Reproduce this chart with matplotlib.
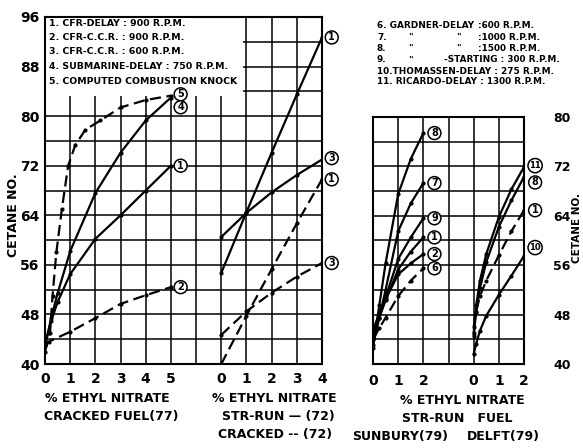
import matplotlib.pyplot as plt
from matplotlib import font_manager
from matplotlib.patches import Rectangle

W, H = 583, 448


def have(name):
    try:
        font_manager.findfont(name, fallback_to_default=False)
        return True
    except Exception:
        return False


# narrow lettering if the system has it, else plain DejaVu a bit smaller
if have('DejaVu Sans Condensed'):
    FAM, SCALE = 'DejaVu Sans Condensed', 1.0
elif have('Liberation Sans Narrow'):
    FAM, SCALE = 'Liberation Sans Narrow', 1.0
else:
    FAM, SCALE = 'DejaVu Sans', 0.84
plt.rcParams['font.family'] = [FAM, 'DejaVu Sans']
plt.rcParams['font.weight'] = 'bold'

# ---- left panel: cracked fuel (77)
crk_x = [0, 0.25, 0.5, 1, 2, 3, 4, 5]
crk_1 = [43, 47, 50, 54.5, 60.2, 64, 68, 72]
crk_4 = [43, 47.5, 51.4, 58.2, 67.6, 74.1, 79.3, 83.0]
crk_2_x = [0, 0.15, 1, 2, 3, 4, 5]
crk_2 = [43, 43.6, 45.2, 47.4, 49.7, 51.1, 52.4]
crk_5_x = [0, 0.2, 0.3, 0.45, 0.67, 0.92, 1.2, 1.6, 2.2, 3, 4, 5]
crk_5 = [42, 45, 51, 58, 65, 72, 75.3, 77.8, 79.3, 81.4, 82.6, 83.3]

# ---- middle panel: str-run (solid) / cracked (dashed), (72)
mid_x = [0, 1, 2, 3, 4]
str_1 = [54.7, 64.5, 74.1, 83.5, 92.7]
str_3 = [60.5, 64.4, 67.7, 70.5, 73.0]
c72_1 = [40, 47.8, 55.3, 62.7, 69.8]
c72_3 = [44.7, 48.5, 51.5, 54.1, 56.3]

# ---- right panel: sunbury / delft (79)
sun_x = [0, 0.25, 0.5, 1, 1.5, 2]
sun_8 = [42.6, 49.5, 56.3, 67.5, 73.2, 77.4]
sun_7 = [43, 47.5, 52, 61.5, 66, 69.3]
sun_9 = [44, 47.5, 50.8, 57, 60.5, 63.6]
sun_1 = [44.5, 47.5, 50.3, 55.3, 58.2, 60.5]
sun_2 = [45.5, 48.2, 50.5, 54.5, 56.3, 57.8]
sun_6 = [44, 45.8, 47.5, 51, 53.5, 55.5]

del_x = [0, 0.1, 0.25, 0.5, 1, 1.5, 2]
del_11 = [45, 49.5, 53.5, 57.8, 63.8, 68.3, 71.9]
del_8 = [44.5, 48.5, 52.3, 56.5, 62.2, 66.5, 70.3]
del_1 = [46, 48.5, 51, 53.5, 57.6, 61.5, 64.9]
del_10 = [41.6, 43.3, 45.4, 47.8, 51.2, 54.3, 57.5]

left_xlabels = ['0', '1', '2', '3', '4', '5', '', '0', '1', '2', '3', '4']
right_xlabels = ['0', '1', '2', '', '0', '1', '2']

MID = 7   # middle panel starts at grid column 7
DELFT = 4

legend_left = ['1. CFR-DELAY : 900 R.P.M.',
               '2. CFR-C.C.R. : 900 R.P.M.',
               '3. CFR-C.C.R. : 600 R.P.M.',
               '4. SUBMARINE-DELAY : 750 R.P.M.',
               '5. COMPUTED COMBUSTION KNOCK']

SOLID = '-'
DASH = (0, (5, 2.5))
LFS = 8 * SCALE     # legend size


def px(x, y):
    return x / W, 1 - y / H


def draw(ax, x, y, ls, off=0):
    ax.plot([v + off for v in x], y, color='black', lw=1.6, ls=ls,
            marker='o', ms=2, zorder=3, solid_capstyle='round')


def tag(ax, x, y, s, dy=0, dx=7):
    ax.annotate(s, (x, y), xytext=(dx, dy), textcoords='offset points',
                ha='center', va='center', fontsize=7 if len(s) == 1 else 6, zorder=5,
                bbox=dict(boxstyle='circle,pad=0.15', fc='white', ec='black', lw=1.1))


def style(ax):
    ax.grid(True, color='black', lw=1.1)
    ax.tick_params(length=0, labelsize=10)
    for sp in ax.spines.values():
        sp.set_linewidth(1.5)


fig = plt.figure(figsize=(W / 100, H / 100), dpi=100)

# left + middle panels share one grid
ax = fig.add_axes([45 / W, 84 / H, 277 / W, 347 / H])
ax.set_xlim(0, 11)
ax.set_ylim(40, 96)
ax.set_xticks(range(12))
ax.set_xticklabels(left_xlabels)
ax.set_yticks(range(40, 97, 4))
ax.set_yticklabels([str(v) if v % 8 == 0 else '' for v in range(40, 97, 4)])
style(ax)
ax.tick_params(axis='x', pad=6)
ax.tick_params(axis='y', pad=4)
ax.add_patch(Rectangle((0.05, 83.2), 7.8, 12.6, fc='white', ec='none', zorder=2))

draw(ax, crk_5_x, crk_5, DASH)
draw(ax, crk_x, crk_4, SOLID)
draw(ax, crk_x, crk_1, SOLID)
draw(ax, crk_2_x, crk_2, DASH)
tag(ax, 5, crk_5[-1], '5', dy=1)
tag(ax, 5, crk_4[-1], '4', dy=-7)
tag(ax, 5, crk_1[-1], '1')
tag(ax, 5, crk_2[-1], '2')

draw(ax, mid_x, str_1, SOLID, MID)
draw(ax, mid_x, str_3, SOLID, MID)
draw(ax, mid_x, c72_1, DASH, MID)
draw(ax, mid_x, c72_3, DASH, MID)
tag(ax, 4 + MID, str_1[-1], '1')
tag(ax, 4 + MID, str_3[-1], '3', dy=1)
tag(ax, 4 + MID, c72_1[-1], '1')
tag(ax, 4 + MID, c72_3[-1], '3')

# right panel
ax2 = fig.add_axes([373 / W, 84 / H, 151 / W, 247 / H])
ax2.set_xlim(0, 6)
ax2.set_ylim(40, 80)
ax2.set_xticks(range(7))
ax2.set_xticklabels(right_xlabels)
ax2.set_yticks(range(40, 81, 4))
ax2.set_yticklabels([str(v) if v % 8 == 0 else '' for v in range(40, 81, 4)])
ax2.yaxis.tick_right()
style(ax2)
ax2.tick_params(axis='x', pad=7)
ax2.tick_params(axis='y', pad=21, labelsize=9)

draw(ax2, sun_x, sun_8, SOLID)
draw(ax2, sun_x, sun_7, SOLID)
draw(ax2, sun_x, sun_9, SOLID)
draw(ax2, sun_x, sun_1, SOLID)
draw(ax2, sun_x, sun_2, SOLID)
draw(ax2, sun_x, sun_6, DASH)
for s, series in [('8', sun_8), ('7', sun_7), ('9', sun_9), ('1', sun_1), ('2', sun_2), ('6', sun_6)]:
    tag(ax2, 2, series[-1], s, dx=8)

draw(ax2, del_x, del_11, SOLID, DELFT)
draw(ax2, del_x, del_8, SOLID, DELFT)
draw(ax2, del_x, del_1, DASH, DELFT)
draw(ax2, del_x, del_10, SOLID, DELFT)
tag(ax2, 2 + DELFT, del_11[-1], '11', dx=8, dy=1)
tag(ax2, 2 + DELFT, del_8[-1], '8', dx=8, dy=-4)
tag(ax2, 2 + DELFT, del_1[-1], '1', dx=8)
tag(ax2, 2 + DELFT, del_10[-1], '10', dx=8, dy=6)

# legends
for i, s in enumerate(legend_left):
    fig.text(*px(49, 23 + i * 14.5), s, ha='left', va='center', fontsize=LFS,
             bbox=dict(fc='white', ec='none', pad=0.5) if i == 0 else None)

rows = [(25, '6. GARDNER-DELAY', None, ':600 R.P.M.'),
        (37, '7.', '"', ':1000 R.P.M.'),
        (48.5, '8.', '"', ':1500 R.P.M.'),
        (60, '9.', None, '-STARTING : 300 R.P.M.'),
        (71, '10.THOMASSEN-DELAY : 275 R.P.M.', None, None),
        (82, '11. RICARDO-DELAY : 1300 R.P.M.', None, None)]
for y, a, b, c in rows:
    fig.text(*px(377, y), a, ha='left', va='center', fontsize=LFS * 0.95)
    if a in ('7.', '8.', '9.'):
        fig.text(*px(408, y), '"', ha='left', va='center', fontsize=LFS * 0.95)
    if b:
        fig.text(*px(456, y), b, ha='left', va='center', fontsize=LFS * 0.95)
    if c:
        x0 = 444 if a == '9.' else 478
        fig.text(*px(x0, y), c, ha='left', va='center', fontsize=LFS * 0.95)

# axis titles
fig.text(*px(14, 215), 'CETANE NO.', rotation=90, ha='center', va='center', fontsize=9)
fig.text(*px(577, 228), 'CETANE NO.', rotation=90, ha='center', va='center', fontsize=7.5)

fig.text(*px(107, 398), '% ETHYL NITRATE', ha='center', va='center', fontsize=9)
fig.text(*px(111, 416), 'CRACKED FUEL(77)', ha='center', va='center', fontsize=9)
fig.text(*px(274, 398), '% ETHYL NITRATE', ha='center', va='center', fontsize=9)
fig.text(*px(278, 416), 'STR-RUN \u2014 (72)', ha='center', va='center', fontsize=9)
fig.text(*px(275, 434), 'CRACKED -- (72)', ha='center', va='center', fontsize=9)
fig.text(*px(462, 400), '% ETHYL NITRATE', ha='center', va='center', fontsize=9)
fig.text(*px(457, 418), 'STR-RUN   FUEL', ha='center', va='center', fontsize=9)
fig.text(*px(400, 436), 'SUNBURY(79)', ha='center', va='center', fontsize=9)
fig.text(*px(503, 436), 'DELFT(79)', ha='center', va='center', fontsize=9)

fig.savefig('out.png', dpi=100)
